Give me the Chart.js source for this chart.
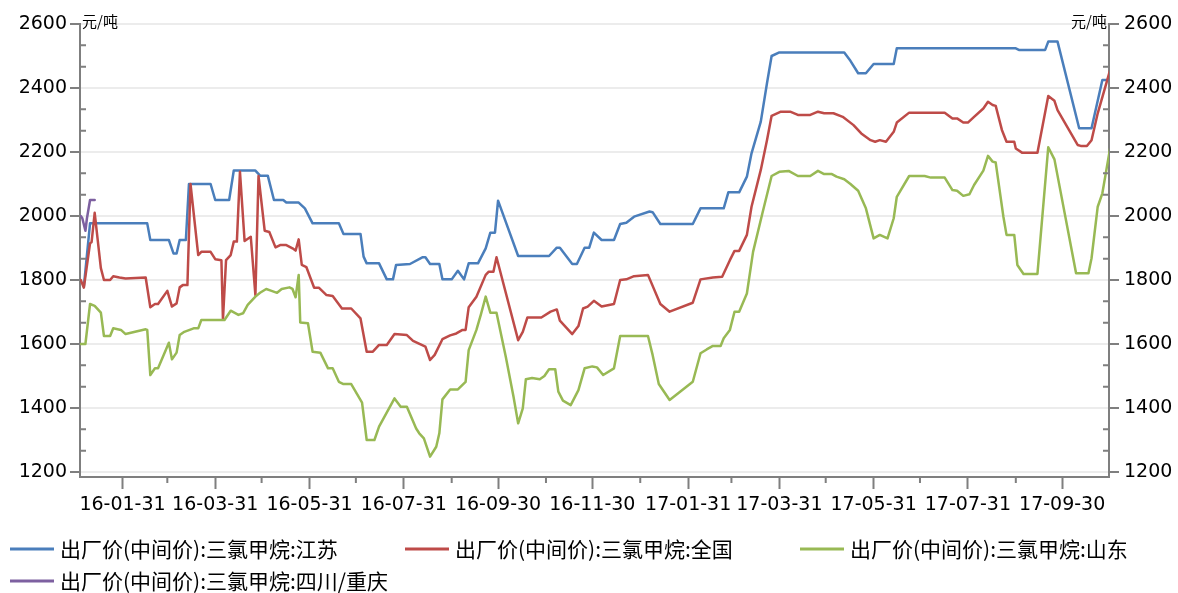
<!DOCTYPE html>
<html>
<head>
<meta charset="utf-8">
<script src="https://cdn.jsdelivr.net/npm/chart.js@4.4.1/dist/chart.umd.min.js"></script>
<style>
  html, body { margin: 0; padding: 0; background: #fff; }
  #wrap { width: 1178px; height: 593px; }
</style>
</head>
<body>
<div id="wrap"><canvas id="chart" width="1178" height="593"></canvas></div>
<script>
// series names (legend order)
const seriesNames = [
  '出厂价(中间价):三氯甲烷:江苏',
  '出厂价(中间价):三氯甲烷:全国',
  '出厂价(中间价):三氯甲烷:山东',
  '出厂价(中间价):三氯甲烷:四川/重庆'
];
const unitLabel = '元/吨';

// x axis labels (every other month end) and the month ends between them
const tickLabels = ['16-01-31', '16-03-31', '16-05-31', '16-07-31', '16-09-30', '16-11-30',
  '17-01-31', '17-03-31', '17-05-31', '17-07-31', '17-09-30'];
const minorTickLabels = ['16-02-29', '16-04-30', '16-06-30', '16-08-31', '16-10-31', '16-12-31',
  '17-02-28', '17-04-30', '17-06-30', '17-08-31'];
const yTicks = [1200, 1400, 1600, 1800, 2000, 2200, 2400, 2600];

// all x values are day offsets from 2016-01-01
// 江苏
const jsDays = [5, 9, 46, 48, 60, 63, 65, 67, 71, 73, 87, 90, 99, 102, 116, 119, 124, 128, 134, 136,
  144, 148, 153, 170, 173, 184, 186, 188, 196, 201, 205, 207, 216, 224, 226, 229, 235, 237, 243, 247,
  251, 254, 260, 265, 268, 271, 273, 286, 306, 311, 313, 321, 324, 329, 332, 335, 340, 348, 352, 356,
  361, 371, 373, 378, 399, 404, 419, 422, 429, 434, 437, 443, 447, 450, 455, 497, 501, 506, 511, 516,
  529, 531, 608, 610, 627, 629, 635, 649, 657, 664, 668];
const jsVals = [1780, 1977, 1977, 1925, 1925, 1883, 1883, 1925, 1925, 2100, 2100, 2050, 2050, 2142, 2142, 2126, 2126, 2050, 2050, 2042,
  2042, 2024, 1977, 1977, 1944, 1944, 1873, 1852, 1852, 1802, 1802, 1847, 1850, 1871, 1871, 1850, 1850, 1802, 1802, 1829,
  1802, 1852, 1852, 1899, 1948, 1948, 2048, 1875, 1875, 1901, 1901, 1850, 1850, 1901, 1901, 1948, 1925, 1925, 1975, 1979,
  1998, 2014, 2012, 1975, 1975, 2024, 2024, 2074, 2074, 2123, 2196, 2295, 2415, 2500, 2511, 2511, 2485, 2446, 2446, 2475,
  2475, 2524, 2524, 2519, 2519, 2545, 2545, 2274, 2274, 2425, 2425];

// 全国
const qgDays = [3, 5, 9, 10, 12, 16, 18, 22, 24, 28, 32, 45, 48, 51, 53, 59, 62, 65, 67, 69,
  72, 74, 79, 81, 87, 90, 94, 95, 97, 100, 102, 104, 106, 109, 113, 116, 118, 122, 125, 129,
  132, 136, 140, 142, 144, 146, 149, 154, 157, 162, 166, 172, 178, 184, 188, 192, 196, 201, 206, 214,
  218, 226, 229, 232, 237, 242, 246, 250, 252, 254, 259, 265, 267, 270, 272, 286, 289, 292, 301, 307,
  311, 313, 321, 325, 328, 331, 335, 340, 348, 352, 356, 361, 370, 378, 384, 399, 404, 412, 418, 423,
  426, 429, 434, 437, 443, 447, 450, 456, 462, 467, 475, 480, 484, 490, 496, 503, 508, 514, 517, 520,
  524, 529, 531, 539, 562, 567, 570, 574, 577, 581, 587, 590, 593, 595, 599, 602, 607, 608, 612, 622,
  629, 633, 635, 648, 650, 654, 657, 661, 669];
const qgVals = [1800, 1776, 1915, 1918, 2010, 1837, 1800, 1800, 1812, 1808, 1805, 1808, 1715, 1725, 1725, 1766, 1717, 1727, 1777, 1784,
  1784, 2100, 1878, 1888, 1888, 1865, 1862, 1677, 1862, 1878, 1920, 1920, 2138, 1922, 1935, 1753, 2125, 1954, 1950, 1902,
  1909, 1909, 1899, 1892, 1927, 1847, 1840, 1776, 1776, 1753, 1750, 1711, 1711, 1680, 1576, 1576, 1597, 1597, 1631, 1628,
  1610, 1592, 1550, 1566, 1615, 1627, 1633, 1644, 1644, 1715, 1748, 1816, 1826, 1826, 1871, 1612, 1638, 1683, 1683, 1701,
  1708, 1673, 1631, 1656, 1711, 1717, 1735, 1717, 1725, 1800, 1802, 1812, 1816, 1725, 1701, 1729, 1802, 1808, 1810, 1862,
  1891, 1891, 1941, 2029, 2144, 2237, 2313, 2326, 2326, 2316, 2316, 2326, 2321, 2321, 2310, 2284, 2258, 2237, 2232, 2237,
  2232, 2263, 2292, 2323, 2323, 2305, 2305, 2292, 2292, 2310, 2336, 2357, 2347, 2344, 2269, 2232, 2232, 2211, 2198, 2198,
  2375, 2360, 2331, 2222, 2219, 2219, 2237, 2321, 2456];

// 山东
const sdDays = [3, 6, 9, 12, 16, 18, 22, 24, 29, 32, 45, 46, 48, 51, 53, 60, 62, 65, 67, 70,
  76, 79, 81, 96, 100, 105, 108, 111, 116, 119, 123, 126, 130, 133, 138, 140, 142, 144, 145, 150,
  153, 158, 163, 166, 170, 173, 178, 185, 188, 193, 196, 206, 210, 214, 220, 222, 225, 229, 233, 235,
  237, 242, 247, 252, 254, 259, 262, 265, 268, 272, 278, 283, 286, 289, 291, 295, 300, 303, 306, 310,
  312, 315, 320, 325, 329, 334, 337, 341, 348, 352, 370, 373, 377, 384, 399, 404, 408, 412, 417, 419,
  423, 426, 429, 434, 438, 444, 450, 455, 461, 467, 475, 480, 484, 489, 492, 497, 501, 506, 511, 516,
  520, 525, 529, 531, 539, 549, 553, 562, 567, 570, 574, 578, 581, 587, 590, 593, 595, 600, 602, 607,
  609, 613, 622, 629, 633, 647, 655, 657, 661, 664, 669];
const sdVals = [1600, 1600, 1725, 1719, 1698, 1625, 1625, 1649, 1644, 1631, 1646, 1644, 1503, 1524, 1524, 1604, 1552, 1573, 1628, 1638,
  1649, 1649, 1675, 1675, 1704, 1691, 1696, 1722, 1748, 1760, 1772, 1767, 1760, 1772, 1777, 1772, 1746, 1816, 1667, 1665,
  1576, 1573, 1524, 1524, 1482, 1475, 1475, 1417, 1300, 1300, 1342, 1430, 1404, 1404, 1336, 1321, 1305, 1248, 1279, 1321,
  1427, 1458, 1458, 1482, 1581, 1644, 1694, 1748, 1698, 1698, 1560, 1435, 1352, 1399, 1490, 1494, 1490, 1500, 1521, 1521,
  1451, 1423, 1409, 1456, 1524, 1530, 1527, 1503, 1524, 1625, 1625, 1566, 1475, 1425, 1482, 1571, 1583, 1594, 1594, 1618,
  1644, 1701, 1701, 1758, 1888, 2008, 2125, 2138, 2141, 2125, 2125, 2141, 2131, 2131, 2123, 2115, 2100, 2079, 2024, 1930,
  1941, 1930, 1993, 2060, 2125, 2125, 2120, 2120, 2081, 2079, 2063, 2068, 2097, 2142, 2188, 2170, 2167, 1997, 1941, 1941,
  1847, 1819, 1819, 2215, 2177, 1821, 1821, 1868, 2029, 2071, 2211];

// 四川/重庆
const scDays = [3, 4, 6, 7, 9, 12];
const scVals = [2000, 1993, 1954, 1993, 2050, 2050];

const COLORS = ['#4a7ebb', '#be4b48', '#98b954', '#7d60a0'];
const AXIS_GREY = '#7f7f7f';
const TICK_FONT = { family: 'DejaVu Sans', size: 19 };

function dayOf(label) {
  const p = label.split('-').map(Number);
  return (Date.UTC(2000 + p[0], p[1] - 1, p[2]) - Date.UTC(2016, 0, 1)) / 86400000;
}
const majorDays = tickLabels.map(dayOf);
const minorDays = minorTickLabels.map(dayOf);

function toPoints(days, vals) {
  return days.map((d, i) => ({ x: d, y: vals[i] }));
}

const datasets = [
  [jsDays, jsVals], [qgDays, qgVals], [sdDays, sdVals], [scDays, scVals]
].map((s, i) => ({
  label: seriesNames[i],
  data: toPoints(s[0], s[1]),
  borderColor: COLORS[i],
  backgroundColor: COLORS[i],
  order: 3 - i
}));

const Y_MIN = 1184.4, Y_MAX = 2600;

// minor ticks, unit labels and the legend
const extras = {
  id: 'extras',
  afterDraw(chart) {
    const { ctx, chartArea: a, scales } = chart;
    ctx.save();
    ctx.strokeStyle = AXIS_GREY;
    ctx.lineWidth = 2;
    ctx.beginPath();
    minorDays.forEach(d => {
      const px = scales.x.getPixelForValue(d);
      ctx.moveTo(px, a.bottom);
      ctx.lineTo(px, a.bottom + 6);
    });
    for (let i = 0; i < yTicks.length - 1; i++) {
      const step = (yTicks[i + 1] - yTicks[i]) / 3;
      [yTicks[i] + step, yTicks[i] + 2 * step].forEach(v => {
        const py = scales.y.getPixelForValue(v);
        ctx.moveTo(a.left, py);
        ctx.lineTo(a.left + 6, py);
        ctx.moveTo(a.right - 6, py);
        ctx.lineTo(a.right, py);
      });
    }
    ctx.stroke();

    ctx.fillStyle = '#000';
    ctx.font = '15px "Noto Sans CJK SC"';
    ctx.textBaseline = 'middle';
    ctx.textAlign = 'left';
    ctx.fillText(unitLabel, a.left + 2, 21);
    ctx.textAlign = 'right';
    ctx.fillText(unitLabel, a.right - 2, 21);

    const spots = [[10, 549], [405, 549], [800, 549], [10, 581]];
    ctx.font = '21px "Noto Sans CJK SC"';
    ctx.textAlign = 'left';
    spots.forEach((p, i) => {
      ctx.strokeStyle = COLORS[i];
      ctx.lineWidth = 3;
      ctx.beginPath();
      ctx.moveTo(p[0], p[1]);
      ctx.lineTo(p[0] + 44, p[1]);
      ctx.stroke();
      ctx.fillStyle = '#000';
      ctx.fillText(seriesNames[i], p[0] + 50, p[1]);
    });
    ctx.restore();
  }
};

function yAxis(side) {
  return {
    type: 'linear',
    position: side,
    min: Y_MIN,
    max: Y_MAX,
    afterBuildTicks: s => { s.ticks = yTicks.map(v => ({ value: v })); },
    afterFit: s => { s.width = side === 'left' ? 80 : 69; },
    ticks: {
      color: '#000',
      font: TICK_FONT,
      padding: side === 'left' ? 3 : 5,
      callback: v => String(v)
    },
    grid: {
      drawOnChartArea: side === 'left',
      color: '#ececec',
      lineWidth: 2,
      tickColor: AXIS_GREY,
      tickWidth: 2,
      tickLength: 10
    },
    border: { color: AXIS_GREY, width: 2 }
  };
}

new Chart(document.getElementById('chart'), {
  type: 'line',
  data: { datasets: datasets },
  options: {
    responsive: false,
    animation: false,
    devicePixelRatio: 1,
    layout: { padding: { top: 24, bottom: 76, left: 0, right: 0 } },
    plugins: { legend: { display: false }, tooltip: { enabled: false } },
    elements: {
      point: { radius: 0 },
      line: { borderWidth: 2.5, tension: 0, borderJoinStyle: 'round', borderCapStyle: 'round' }
    },
    scales: {
      x: {
        type: 'linear',
        min: 2.5,
        max: 668.3,
        afterBuildTicks: s => { s.ticks = majorDays.map(v => ({ value: v })); },
        afterFit: s => { s.height = 40; },
        ticks: {
          autoSkip: false,
          maxRotation: 0,
          color: '#000',
          font: TICK_FONT,
          padding: 5,
          callback: v => tickLabels[majorDays.indexOf(v)]
        },
        grid: { drawOnChartArea: false, tickColor: AXIS_GREY, tickWidth: 2, tickLength: 12 },
        border: { color: AXIS_GREY, width: 2 }
      },
      y: yAxis('left'),
      y2: yAxis('right')
    }
  },
  plugins: [extras]
});
</script>
</body>
</html>
